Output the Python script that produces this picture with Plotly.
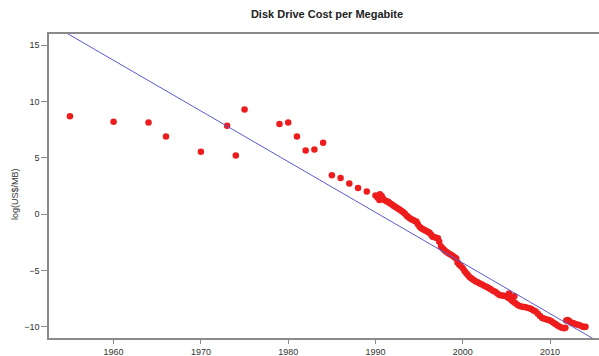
import plotly.graph_objects as go

# Early sparse observations
years_early = [1955, 1960, 1964, 1966, 1970, 1973, 1974, 1975, 1979, 1980,
               1981, 1982, 1983, 1984, 1985, 1986, 1987, 1988, 1989]
vals_early = [8.7, 8.2, 8.15, 6.9, 5.55, 7.85, 5.2, 9.3, 8.0, 8.15,
              6.9, 5.65, 5.75, 6.35, 3.45, 3.22, 2.72, 2.33, 2.01]

# Dense observations from 1990 on
years_dense = [
    1990.00, 1990.25, 1990.45, 1990.50, 1990.70, 1990.85, 1991.00, 1991.25, 1991.45, 1991.60,
    1991.80, 1992.00, 1992.15, 1992.35, 1992.55, 1992.75, 1992.95, 1993.15, 1993.35, 1993.55,
    1993.70, 1993.90, 1994.10, 1994.30, 1994.50, 1994.70, 1994.85, 1995.05, 1995.25, 1995.45,
    1995.65, 1995.85, 1996.05, 1996.20, 1996.40, 1996.55, 1996.75, 1996.95, 1997.15, 1997.30,
    1997.50, 1997.70, 1997.90, 1998.10, 1998.30, 1998.50, 1998.70, 1998.90, 1999.10, 1999.25,
    1999.40, 1999.55, 1999.75, 2000.00, 2000.20, 2000.40, 2000.60, 2000.80, 2001.00, 2001.20,
    2001.45, 2001.70, 2001.95, 2002.20, 2002.45, 2002.70, 2002.95, 2003.20, 2003.45, 2003.70,
    2003.95, 2004.20, 2004.45, 2004.70, 2004.90, 2005.15, 2005.30, 2005.35, 2005.55, 2005.75,
    2005.90, 2006.00, 2006.25, 2006.50, 2006.80, 2007.05, 2007.30, 2007.60, 2007.85, 2008.10,
    2008.35, 2008.60, 2008.85, 2009.10, 2009.35, 2009.60, 2009.85, 2010.10, 2010.35, 2010.60,
    2010.85, 2011.10, 2011.35, 2011.60, 2011.75, 2011.85, 2012.00, 2012.20, 2012.45, 2012.70,
    2012.95, 2013.20, 2013.45, 2013.70, 2013.90, 2014.05,
]
vals_dense = [
    1.66, 1.45, 1.25, 1.77, 1.62, 1.40, 1.25, 1.15, 1.10, 1.00,
    0.90, 0.78, 0.70, 0.62, 0.51, 0.42, 0.30, 0.20, 0.05, -0.12,
    -0.24, -0.35, -0.45, -0.53, -0.60, -0.68, -0.90, -1.13, -1.25, -1.35,
    -1.42, -1.50, -1.60, -1.66, -1.85, -2.00, -2.05, -2.10, -2.15, -2.45,
    -2.88, -3.05, -3.20, -3.34, -3.45, -3.55, -3.63, -3.75, -3.85, -3.95,
    -4.30, -4.46, -4.60, -4.80, -5.05, -5.25, -5.42, -5.60, -5.72, -5.82,
    -5.95, -6.05, -6.15, -6.25, -6.35, -6.45, -6.55, -6.68, -6.80, -6.90,
    -7.05, -7.18, -7.22, -7.25, -7.28, -7.40, -7.05, -7.48, -7.62, -7.75,
    -7.30, -7.90, -8.05, -8.15, -8.22, -8.25, -8.30, -8.36, -8.42, -8.55,
    -8.65, -8.85, -9.05, -9.22, -9.28, -9.35, -9.40, -9.50, -9.62, -9.75,
    -9.90, -10.00, -10.10, -10.13, -10.10, -9.45, -9.40, -9.50, -9.65, -9.70,
    -9.78, -9.82, -9.88, -9.98, -10.02, -10.00,
]

# Fitted trend line
fit_slope = -0.45       # log(US$/MB) per year
fit_at_1990 = 0.16      # fitted value in 1990
fit_years = [1950, 2020]
fit_vals = [fit_at_1990 + fit_slope * (y - 1990) for y in fit_years]

x_ticks = [1960, 1970, 1980, 1990, 2000, 2010]
y_ticks = [-10, -5, 0, 5, 10, 15]

FONT = "Liberation Sans, Arial, sans-serif"

fig = go.Figure()
fig.add_trace(go.Scatter(
    x=years_early + years_dense, y=vals_early + vals_dense,
    mode="markers",
    marker=dict(color="#ee1c1c", size=6.5, line=dict(width=0)),
    showlegend=False, cliponaxis=True,
))
fig.add_trace(go.Scatter(
    x=fit_years, y=fit_vals, mode="lines",
    line=dict(color="#5a5ad2", width=1),
    showlegend=False,
))

fig.update_layout(
    width=599, height=356,
    margin=dict(l=49, r=0, t=34, b=18),
    paper_bgcolor="white", plot_bgcolor="white",
    font=dict(family=FONT, size=9, color="#333333"),
    title=dict(text="<b>Disk Drive Cost per Megabite</b>",
               x=327/599, xanchor="center", y=1 - 14/356, yanchor="middle",
               font=dict(family=FONT, size=11, color="#222222")),
    xaxis=dict(range=[1952.6, 2015.6], tickvals=x_ticks,
               showgrid=False, zeroline=False, automargin=False,
               showline=True, linecolor="#8a8a8a", linewidth=1.5, mirror=True,
               ticks="outside", ticklen=4, tickcolor="#8a8a8a", tickwidth=1,
               tickfont=dict(size=9, color="#333333")),
    yaxis=dict(range=[-11, 16], tickvals=y_ticks,
               showgrid=False, zeroline=False, automargin=False,
               showline=True, linecolor="#8a8a8a", linewidth=1.5,
               ticks="outside", ticklen=6, tickcolor="#8a8a8a", tickwidth=1,
               tickfont=dict(size=9, color="#333333")),
    annotations=[dict(text="log(US$/MB)", textangle=-90,
                      xref="paper", yref="paper", x=0, xshift=-34,
                      y=(356 - 194 - 18) / (356 - 34 - 18), xanchor="center", yanchor="middle",
                      showarrow=False, font=dict(family=FONT, size=9, color="#333333"))],
)

fig.write_html("out.html", config={"displayModeBar": False},
               post_script="document.body.style.margin='0';document.body.style.padding='0';")
